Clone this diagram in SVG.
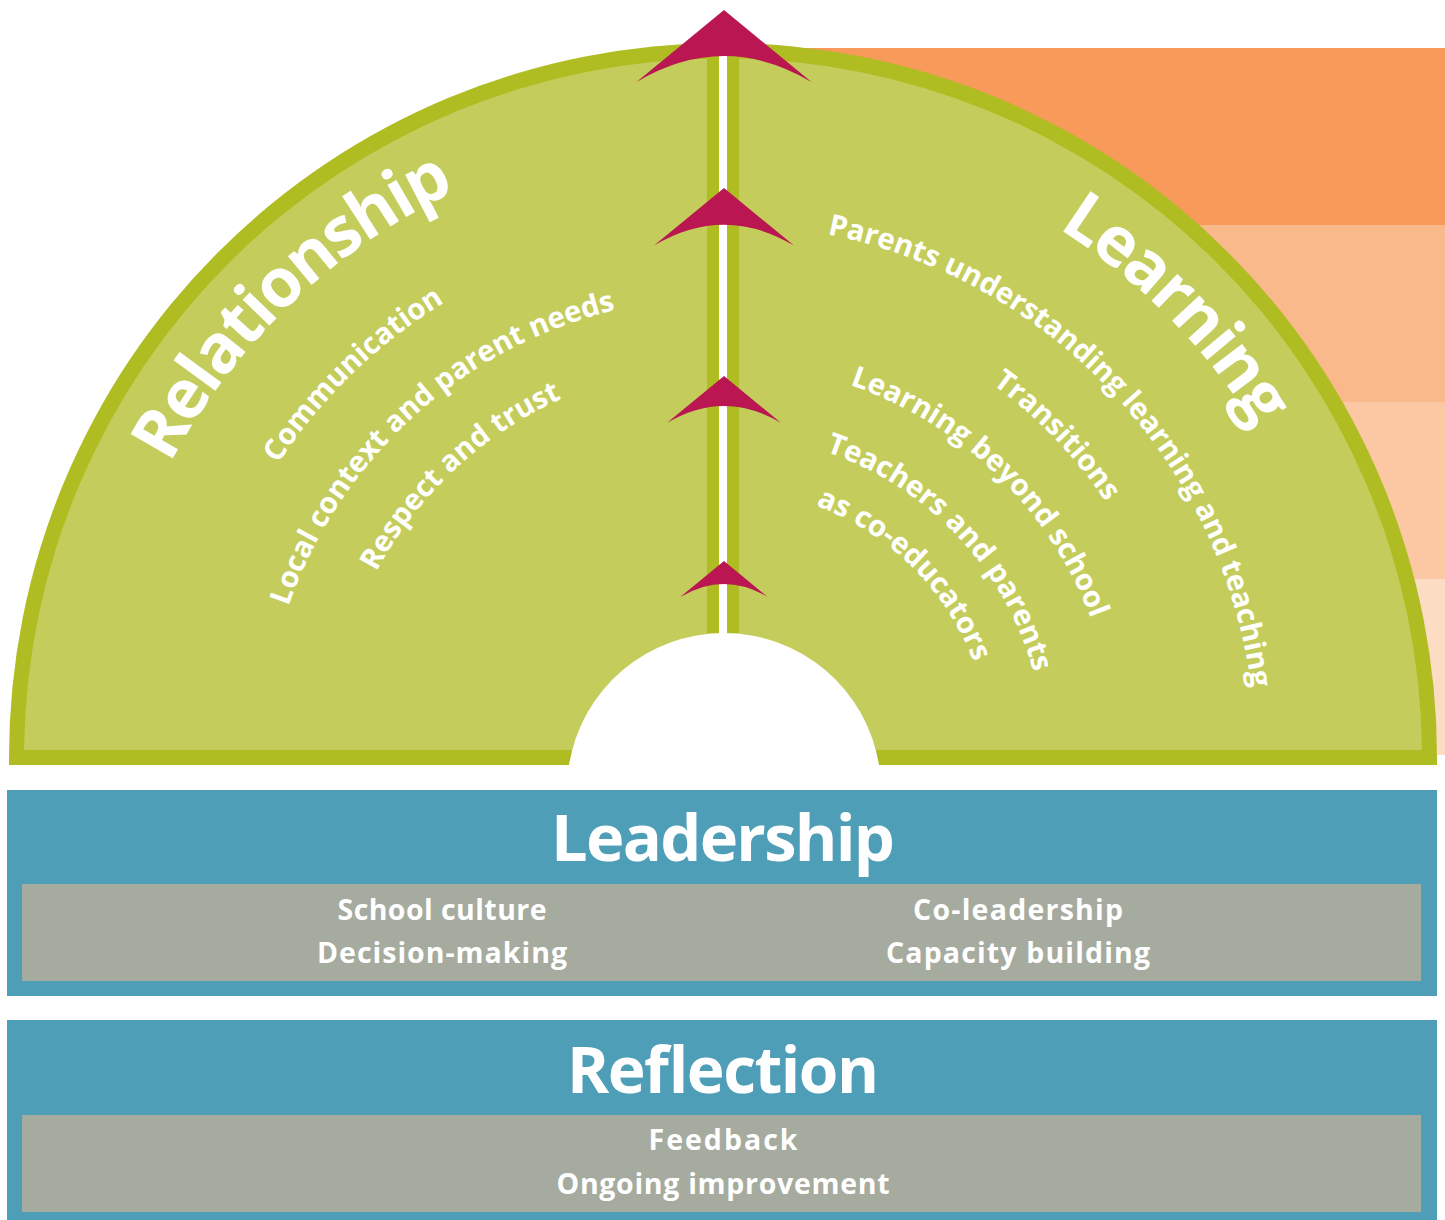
<svg xmlns="http://www.w3.org/2000/svg" xmlns:xlink="http://www.w3.org/1999/xlink" width="1445" height="1220" viewBox="0 0 1445 1220">
<style>
.ct{font-family:"Open Sans","DejaVu Sans",sans-serif;font-weight:700;fill:#FFFFFF;}
.big{font-size:68px;letter-spacing:-2.2px;}
.sm{font-size:29.3px;}
.bt{font-family:"Open Sans","DejaVu Sans",sans-serif;font-weight:700;fill:#FFFFFF;text-anchor:middle;}
.blue{fill:#4F9EB8;}
.gray{fill:#A6ABA0;}
.arrow{fill:#BA1752;}
</style>
<defs>
<path id="a626" d="M 97 757 A 626 626 0 0 1 1349 757"/>
<path id="a533" d="M 190 757 A 533 533 0 0 1 1256 757"/>
<path id="a460" d="M 263 757 A 460 460 0 0 1 1183 757"/>
<path id="a393" d="M 330 757 A 393 393 0 0 1 1116 757"/>
<path id="a322" d="M 401 757 A 322 322 0 0 1 1045 757"/>
<path id="a268" d="M 455 757 A 268 268 0 0 1 991 757"/>
<path id="arrowhead" d="M0 0 L87.5 72 Q0 20 -87.5 72 Z"/>
</defs>

<g id="orange-bands">
<rect x="723" y="48" width="722" height="177" fill="#F79A5A"/>
<rect x="723" y="225" width="722" height="177" fill="#FAB98A"/>
<rect x="723" y="402" width="722" height="177" fill="#FBC8A3"/>
<rect x="723" y="579" width="722" height="176" fill="#FDDCC4"/>
</g>

<g id="semicircle">
<path d="M 9 765 L 9 757 A 714 714 0 0 1 1437 757 L 1437 765 Z" fill="#B0BD22"/>
<path d="M 24.04 750 A 699 699 0 0 1 1421.96 750 Z" fill="#C4CD5C"/>
</g>

<g id="connectors">
<rect x="707" y="50" width="32" height="590" fill="#B0BD22"/>
<rect x="719" y="50" width="8" height="590" fill="#FFFFFF"/>
<use xlink:href="#arrowhead" class="arrow" transform="translate(724 10)"/>
<use xlink:href="#arrowhead" class="arrow" transform="translate(724 188) scale(0.8)"/>
<use xlink:href="#arrowhead" class="arrow" transform="translate(724 376) scale(0.65)"/>
<use xlink:href="#arrowhead" class="arrow" transform="translate(724 561) scale(0.5)"/>
</g>

<g id="hub">
<path d="M 569 765 A 157 157 0 0 1 879 765 Z" fill="#FFFFFF"/>
</g>

<g id="relationship">
<text class="ct big" text-anchor="middle"><textPath xlink:href="#a626" startOffset="25.69%">Relationship</textPath></text>
<text class="ct sm" text-anchor="middle"><textPath xlink:href="#a533" startOffset="25.53%">Communication</textPath></text>
<text class="ct sm" text-anchor="middle"><textPath xlink:href="#a460" startOffset="26.56%">Local context and parent needs</textPath></text>
<text class="ct sm" text-anchor="middle"><textPath xlink:href="#a393" startOffset="26.08%">Respect and trust</textPath></text>
</g>

<g id="learning">
<text class="ct big" text-anchor="middle"><textPath xlink:href="#a626" startOffset="75.14%">Learning</textPath></text>
<text class="ct sm" text-anchor="middle"><textPath xlink:href="#a533" startOffset="76.06%">Parents understanding learning and teaching</textPath></text>
<text class="ct sm" text-anchor="middle"><textPath xlink:href="#a460" startOffset="75.6%">Transitions</textPath></text>
<text class="ct sm" text-anchor="middle"><textPath xlink:href="#a393" startOffset="74.5%">Learning beyond school</textPath></text>
<text class="ct sm" text-anchor="middle"><textPath xlink:href="#a322" startOffset="75.92%">Teachers and parents</textPath></text>
<text class="ct sm" text-anchor="middle"><textPath xlink:href="#a268" startOffset="74.86%">as co-educators</textPath></text>
</g>

<g id="leadership">
<rect class="blue" x="7" y="790" width="1430" height="206"/>
<rect class="gray" x="22" y="884" width="1399" height="97"/>
<text class="bt" x="723" y="861" font-size="65" textLength="344">Leadership</text>
<text class="bt" x="442" y="920" font-size="28.5" textLength="209">School culture</text>
<text class="bt" x="442" y="963" font-size="28.5" textLength="250">Decision-making</text>
<text class="bt" x="1018" y="920" font-size="28.5" textLength="210">Co-leadership</text>
<text class="bt" x="1018" y="963" font-size="28.5" textLength="264">Capacity building</text>
</g>

<g id="reflection">
<rect class="blue" x="7" y="1020" width="1430" height="200"/>
<rect class="gray" x="22" y="1115" width="1399" height="97"/>
<text class="bt" x="723" y="1093" font-size="64" textLength="312">Reflection</text>
<text class="bt" x="723" y="1150" font-size="28.5" textLength="149">Feedback</text>
<text class="bt" x="723" y="1194" font-size="28.5" textLength="333">Ongoing improvement</text>
</g>
</svg>
